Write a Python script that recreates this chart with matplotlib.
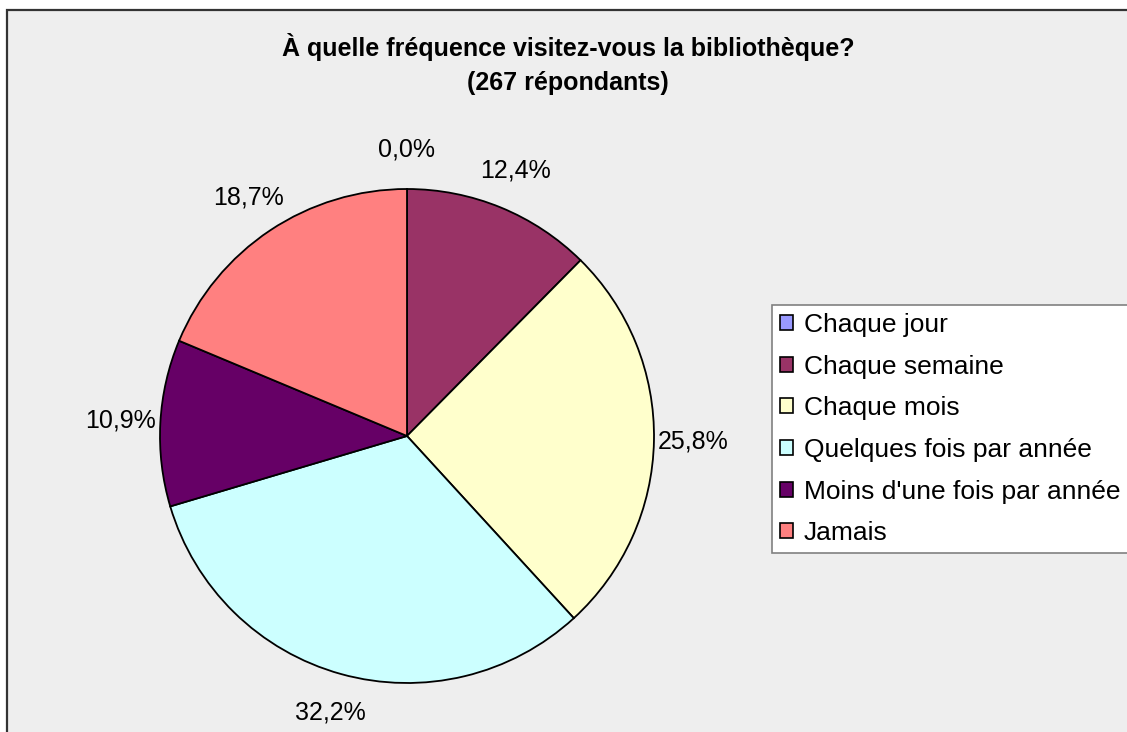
import matplotlib
matplotlib.use("Agg")
import matplotlib.pyplot as plt
from matplotlib.patches import Rectangle

plt.rcParams["font.family"] = ["Liberation Sans", "DejaVu Sans"]

# --- data ---
categories = ["Chaque jour", "Chaque semaine", "Chaque mois",
              "Quelques fois par année", "Moins d'une fois par année", "Jamais"]
percent = [0.0, 12.4, 25.8, 32.2, 10.9, 18.7]
colors = ["#9999FF", "#993366", "#FFFFCC", "#CCFFFF", "#660066", "#FF8080"]
title = "À quelle fréquence visitez-vous la bibliothèque?\n(267 répondants)"

W, H = 1127, 732
fig = plt.figure(figsize=(W / 100, H / 100), dpi=100)
fig.patch.set_facecolor("white")

# chart area: grey panel with dark frame, cut by the right/bottom edges
fig.patches.append(Rectangle((7 / W, -0.1), 1.2, (H - 10) / H + 0.1,
                             transform=fig.transFigure, facecolor="#EEEEEE",
                             edgecolor="#333333", linewidth=1.6, zorder=-10))

fig.text(568 / W, 1 - 64 / H, title, ha="center", va="center",
         fontsize=18, fontweight="bold", linespacing=1.55)

# pie: center (407, 436), radius 247 px
r = 247
ax = fig.add_axes([(407 - r) / W, (H - 436 - r) / H, 2 * r / W, 2 * r / H])
wedges, _, autotexts = ax.pie(
    percent, colors=colors, startangle=90, counterclock=False,
    autopct=lambda p: f"{p:.1f}%".replace(".", ","), pctdistance=1.16,
    wedgeprops=dict(edgecolor="black", linewidth=1.3),
    textprops=dict(fontsize=18))
ax.set_xlim(-1, 1)
ax.set_ylim(-1, 1)
ax.set_aspect("equal")

leg = fig.legend(wedges, categories, loc="upper left",
                 bbox_to_anchor=(772 / W, 1 - 305 / H), fontsize=19,
                 frameon=True, fancybox=False, framealpha=1,
                 handlelength=0.5, handleheight=0.5, handletextpad=0.4,
                 borderpad=0.3, labelspacing=0.67, borderaxespad=0)
leg.get_frame().set_edgecolor("#808080")
leg.get_frame().set_linewidth(1.2)
for h in leg.legend_handles:
    h.set_edgecolor("black")
    h.set_linewidth(1.2)

fig.savefig("out.png", dpi=100)
